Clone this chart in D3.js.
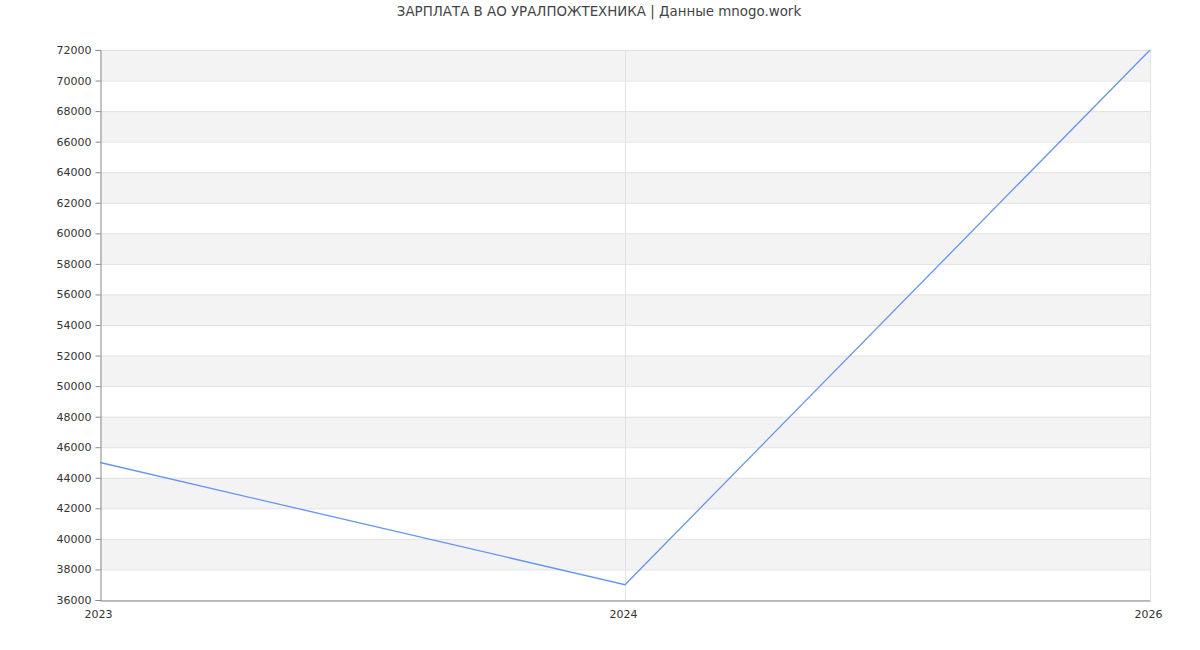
<!DOCTYPE html>
<html>
<head>
<meta charset="utf-8">
<script src="https://cdn.jsdelivr.net/npm/d3@7"></script>
<style>
  html, body { margin: 0; padding: 0; background: #fff; }
  svg { display: block; font-family: "DejaVu Sans", sans-serif; }
</style>
</head>
<body>
<svg id="chart" width="1200" height="650"></svg>
<script>
// Salary by year
const years = ["2023", "2024", "2026"];
const salaries = [45000, 37000, 72000];
const yTicks = [36000, 38000, 40000, 42000, 44000, 46000, 48000, 50000, 52000, 54000,
                56000, 58000, 60000, 62000, 64000, 66000, 68000, 70000, 72000];
const chartTitle = "ЗАРПЛАТА В АО УРАЛПОЖТЕХНИКА | Данные mnogo.work";

const svg = d3.select("#chart");
const margin = { left: 100, right: 50, top: 50, bottom: 50 };
const W = 1200, H = 650;

const x = d3.scalePoint().domain(years).range([margin.left, W - margin.right]);
const y = d3.scaleLinear().domain([36000, 72000]).range([H - margin.bottom, margin.top]);

// alternating horizontal bands
const bands = yTicks.slice(0, -1).map((v, i) => ({ lo: v, hi: yTicks[i + 1], i }));
svg.append("g").selectAll("rect").data(bands).join("rect")
  .attr("x", margin.left)
  .attr("width", W - margin.right - margin.left)
  .attr("y", d => y(d.hi))
  .attr("height", d => y(d.lo) - y(d.hi))
  .attr("fill", d => d.i % 2 === 1 ? "#f3f3f3" : "#ffffff");

// horizontal grid lines
svg.append("g").selectAll("line").data(yTicks).join("line")
  .attr("x1", margin.left).attr("x2", W - margin.right)
  .attr("y1", d => y(d) + 0.5).attr("y2", d => y(d) + 0.5)
  .attr("stroke", "#e2e2e2").attr("stroke-width", 1);

// vertical grid lines
svg.append("g").selectAll("line").data(years.slice(1)).join("line")
  .attr("x1", d => x(d) + 0.5).attr("x2", d => x(d) + 0.5)
  .attr("y1", margin.top).attr("y2", H - margin.bottom)
  .attr("stroke", "#e2e2e2").attr("stroke-width", 1);

// y axis
const yAxis = svg.append("g")
  .attr("transform", `translate(${margin.left + 0.5},0)`)
  .call(d3.axisLeft(y).tickValues(yTicks).tickFormat(d3.format("d")).tickSize(5).tickPadding(4));
yAxis.select(".domain").attr("stroke", "#888");
yAxis.selectAll(".tick line").attr("stroke", "#888");
yAxis.selectAll(".tick text").attr("fill", "#333").style("font-size", "11px")
  .style("font-family", "DejaVu Sans, sans-serif");

// x axis
const xAxis = svg.append("g")
  .attr("transform", `translate(-2,${H - margin.bottom + 0.5})`)
  .call(d3.axisBottom(x).tickSize(0).tickPadding(10));
xAxis.select(".domain").attr("stroke", "#888").attr("transform", "translate(2,0)");
xAxis.selectAll(".tick text").attr("fill", "#333").style("font-size", "11px")
  .style("font-family", "DejaVu Sans, sans-serif");

// salary line
const line = d3.line().x((d, i) => x(years[i])).y(d => y(d));
svg.append("path")
  .datum(salaries)
  .attr("d", line)
  .attr("fill", "none")
  .attr("stroke", "#6495ed")
  .attr("stroke-width", 1.3);

// title
svg.append("text")
  .attr("x", W / 2 - 1).attr("y", 16)
  .attr("text-anchor", "middle")
  .attr("fill", "#444")
  .style("font-size", "13.4px")
  .text(chartTitle);
</script>
</body>
</html>
